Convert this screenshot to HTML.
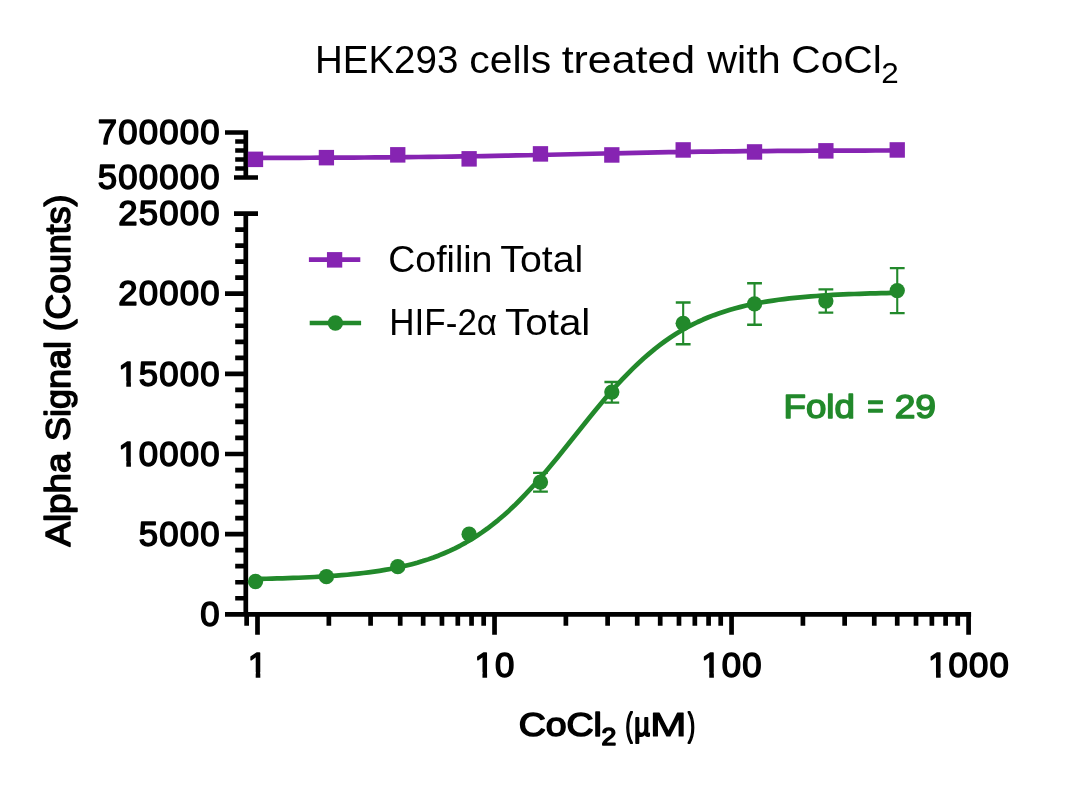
<!DOCTYPE html>
<html lang="en"><head><meta charset="utf-8"><title>HEK293 cells treated with CoCl2</title>
<style>html,body{margin:0;padding:0;background:#fff}svg{display:block;will-change:transform}text{font-family:"Liberation Sans",sans-serif}</style></head>
<body>
<svg width="1080" height="789" viewBox="0 0 1080 789">
<rect width="1080" height="789" fill="#fff"/>
<path d="M245.8 211.4V616.65M245.8 130.15V179.85M234 177.5H258M234 213.7H258M225 614.30H245.8M225 534.15H245.8M225 454.00H245.8M225 373.85H245.8M225 293.70H245.8M225 132.5H245.8M235.2 598.27H245.8M235.2 582.24H245.8M235.2 566.21H245.8M235.2 550.18H245.8M235.2 518.12H245.8M235.2 502.09H245.8M235.2 486.06H245.8M235.2 470.03H245.8M235.2 437.97H245.8M235.2 421.94H245.8M235.2 405.91H245.8M235.2 389.88H245.8M235.2 357.82H245.8M235.2 341.79H245.8M235.2 325.76H245.8M235.2 309.73H245.8M235.2 277.67H245.8M235.2 261.64H245.8M235.2 245.61H245.8M235.2 229.58H245.8M235.2 141.50H245.8M235.2 150.50H245.8M235.2 159.50H245.8M235.2 168.50H245.8M243.45 614.3H971.1M246.65 614.3V625.7M257.50 614.3V634.8M328.85 614.3V625.7M370.59 614.3V625.7M400.21 614.3V625.7M423.18 614.3V625.7M441.95 614.3V625.7M457.81 614.3V625.7M471.56 614.3V625.7M483.68 614.3V625.7M494.53 614.3V634.8M565.88 614.3V625.7M607.62 614.3V625.7M637.24 614.3V625.7M660.21 614.3V625.7M678.98 614.3V625.7M694.84 614.3V625.7M708.59 614.3V625.7M720.71 614.3V625.7M731.56 614.3V634.8M802.91 614.3V625.7M844.65 614.3V625.7M874.27 614.3V625.7M897.24 614.3V625.7M916.01 614.3V625.7M931.87 614.3V625.7M945.62 614.3V625.7M957.74 614.3V625.7M968.59 614.3V634.8" stroke="#000" stroke-width="4.7" fill="none"/>
<path d="M255.5 157.92 L266.4 157.90 L277.3 157.87 L288.1 157.84 L299.0 157.80 L309.9 157.76 L320.8 157.72 L331.6 157.67 L342.5 157.62 L353.4 157.56 L364.3 157.49 L375.1 157.41 L386.0 157.33 L396.9 157.23 L407.8 157.13 L418.7 157.02 L429.5 156.89 L440.4 156.75 L451.3 156.60 L462.2 156.44 L473.0 156.27 L483.9 156.09 L494.8 155.89 L505.7 155.68 L516.5 155.46 L527.4 155.23 L538.3 155.00 L549.2 154.76 L560.1 154.51 L570.9 154.26 L581.8 154.01 L592.7 153.76 L603.6 153.52 L614.4 153.28 L625.3 153.05 L636.2 152.83 L647.1 152.61 L657.9 152.41 L668.8 152.22 L679.7 152.04 L690.6 151.87 L701.5 151.72 L712.3 151.58 L723.2 151.44 L734.1 151.33 L745.0 151.22 L755.8 151.12 L766.7 151.03 L777.6 150.95 L788.5 150.88 L799.3 150.81 L810.2 150.75 L821.1 150.70 L832.0 150.66 L842.9 150.62 L853.7 150.58 L864.6 150.55 L875.5 150.52 L886.4 150.49 L897.2 150.47" stroke="#8624B2" stroke-width="4.7" fill="none"/>
<rect x="247.85" y="151.60" width="15.3" height="15.5" fill="#8624B2"/>
<rect x="318.76" y="149.90" width="15.3" height="15.5" fill="#8624B2"/>
<rect x="390.11" y="147.10" width="15.3" height="15.5" fill="#8624B2"/>
<rect x="461.47" y="151.10" width="15.3" height="15.5" fill="#8624B2"/>
<rect x="532.82" y="146.15" width="15.3" height="15.5" fill="#8624B2"/>
<rect x="604.17" y="147.20" width="15.3" height="15.5" fill="#8624B2"/>
<rect x="675.53" y="142.20" width="15.3" height="15.5" fill="#8624B2"/>
<rect x="746.88" y="144.20" width="15.3" height="15.5" fill="#8624B2"/>
<rect x="818.23" y="143.10" width="15.3" height="15.5" fill="#8624B2"/>
<rect x="889.59" y="142.20" width="15.3" height="15.5" fill="#8624B2"/>
<path d="M255.5 578.96 L260.9 578.85 L266.3 578.73 L271.7 578.60 L277.1 578.46 L282.5 578.31 L287.9 578.13 L293.2 577.95 L298.6 577.74 L304.0 577.52 L309.4 577.27 L314.8 577.00 L320.2 576.70 L325.6 576.37 L331.0 576.01 L336.4 575.62 L341.8 575.19 L347.2 574.72 L352.6 574.21 L358.0 573.64 L363.4 573.02 L368.7 572.35 L374.1 571.61 L379.5 570.81 L384.9 569.93 L390.3 568.97 L395.7 567.92 L401.1 566.78 L406.5 565.53 L411.9 564.18 L417.3 562.71 L422.7 561.11 L428.1 559.37 L433.5 557.49 L438.9 555.45 L444.2 553.25 L449.6 550.87 L455.0 548.31 L460.4 545.56 L465.8 542.59 L471.2 539.42 L476.6 536.02 L482.0 532.39 L487.4 528.53 L492.8 524.43 L498.2 520.08 L503.6 515.49 L509.0 510.65 L514.4 505.57 L519.7 500.26 L525.1 494.71 L530.5 488.95 L535.9 482.99 L541.3 476.84 L546.7 470.53 L552.1 464.07 L557.5 457.49 L562.9 450.82 L568.3 444.08 L573.7 437.31 L579.1 430.53 L584.5 423.77 L589.9 417.07 L595.2 410.45 L600.6 403.94 L606.0 397.56 L611.4 391.34 L616.8 385.30 L622.2 379.46 L627.6 373.82 L633.0 368.41 L638.4 363.24 L643.8 358.30 L649.2 353.61 L654.6 349.16 L660.0 344.96 L665.3 341.00 L670.7 337.28 L676.1 333.79 L681.5 330.52 L686.9 327.48 L692.3 324.64 L697.7 322.00 L703.1 319.54 L708.5 317.27 L713.9 315.17 L719.3 313.23 L724.7 311.43 L730.1 309.78 L735.5 308.26 L740.8 306.86 L746.2 305.57 L751.6 304.39 L757.0 303.30 L762.4 302.31 L767.8 301.39 L773.2 300.56 L778.6 299.79 L784.0 299.09 L789.4 298.45 L794.8 297.87 L800.2 297.33 L805.6 296.85 L811.0 296.40 L816.3 295.99 L821.7 295.62 L827.1 295.28 L832.5 294.97 L837.9 294.69 L843.3 294.43 L848.7 294.20 L854.1 293.98 L859.5 293.79 L864.9 293.61 L870.3 293.45 L875.7 293.30 L881.1 293.17 L886.5 293.05 L891.8 292.93 L897.2 292.83" stroke="#22892B" stroke-width="4.7" fill="none" stroke-linejoin="round"/>
<path d="M533.07 472.9h14.8M533.07 491.6h14.8M604.42 382.0h14.8M604.42 402.6h14.8M675.78 302.5h14.8M675.78 344.3h14.8M747.13 283.3h14.8M747.13 324.8h14.8M818.48 289.4h14.8M818.48 312.6h14.8M889.84 268.1h14.8M889.84 313.1h14.8" stroke="#22892B" stroke-width="2.4" fill="none"/>
<path d="M540.47 472.9V491.6M611.82 382.0V402.6M683.18 302.5V344.3M754.53 283.3V324.8M825.88 289.4V312.6M897.24 268.1V313.1" stroke="#22892B" stroke-width="2.1" fill="none"/>
<circle cx="255.50" cy="581.5" r="7.65" fill="#22892B"/>
<circle cx="326.41" cy="576.7" r="7.65" fill="#22892B"/>
<circle cx="397.76" cy="566.7" r="7.65" fill="#22892B"/>
<circle cx="469.12" cy="534.2" r="7.65" fill="#22892B"/>
<circle cx="540.47" cy="482.1" r="7.65" fill="#22892B"/>
<circle cx="611.82" cy="392.1" r="7.65" fill="#22892B"/>
<circle cx="683.18" cy="323.3" r="7.65" fill="#22892B"/>
<circle cx="754.53" cy="303.9" r="7.65" fill="#22892B"/>
<circle cx="825.88" cy="301.1" r="7.65" fill="#22892B"/>
<circle cx="897.24" cy="290.6" r="7.65" fill="#22892B"/>
<path d="M308.9 259.7H360.3" stroke="#8624B2" stroke-width="4.7"/>
<rect x="326.95" y="252.1" width="15.3" height="15.5" fill="#8624B2"/>
<path d="M309.7 323.0H361.1" stroke="#22892B" stroke-width="4.7"/>
<circle cx="335.4" cy="323.0" r="7.65" fill="#22892B"/>
<text x="388.30" y="272.0" font-size="36.1" font-weight="400" text-anchor="start" fill="#000" textLength="104.14" lengthAdjust="spacingAndGlyphs">Cofilin</text>
<text x="500.36" y="272.0" font-size="36.1" font-weight="400" text-anchor="start" fill="#000" textLength="82.83" lengthAdjust="spacingAndGlyphs">Total</text>
<text x="389.33" y="335.2" font-size="36.1" font-weight="400" text-anchor="start" fill="#000" textLength="107.78" lengthAdjust="spacingAndGlyphs">HIF-2α</text>
<text x="505.04" y="335.2" font-size="36.1" font-weight="400" text-anchor="start" fill="#000" textLength="85.33" lengthAdjust="spacingAndGlyphs">Total</text>
<text x="314.94" y="73.3" font-size="38.4" font-weight="400" text-anchor="start" fill="#000" textLength="143.45" lengthAdjust="spacingAndGlyphs">HEK293</text>
<text x="469.26" y="73.3" font-size="38.4" font-weight="400" text-anchor="start" fill="#000" textLength="81.92" lengthAdjust="spacingAndGlyphs">cells</text>
<text x="561.65" y="73.3" font-size="38.4" font-weight="400" text-anchor="start" fill="#000" textLength="133.51" lengthAdjust="spacingAndGlyphs">treated</text>
<text x="707.26" y="73.3" font-size="38.4" font-weight="400" text-anchor="start" fill="#000" textLength="73.42" lengthAdjust="spacingAndGlyphs">with</text>
<text x="791.33" y="73.3" font-size="38.4" font-weight="400" text-anchor="start" fill="#000" textLength="90.49" lengthAdjust="spacingAndGlyphs">CoCl</text>
<text x="881.22" y="83.0" font-size="29.7" font-weight="400" text-anchor="start" fill="#000" textLength="17.46" lengthAdjust="spacingAndGlyphs">2</text>
<text x="783.54" y="418.0" font-size="33.5" font-weight="400" text-anchor="start" fill="#22892B" textLength="71.37" lengthAdjust="spacingAndGlyphs" stroke="#22892B" stroke-width="1.5" stroke-linejoin="round">Fold</text>
<text x="867.17" y="418.0" font-size="33.5" font-weight="400" text-anchor="start" fill="#22892B" textLength="16.47" lengthAdjust="spacingAndGlyphs" stroke="#22892B" stroke-width="1.5" stroke-linejoin="round">=</text>
<text x="894.68" y="418.0" font-size="33.5" font-weight="400" text-anchor="start" fill="#22892B" textLength="41.33" lengthAdjust="spacingAndGlyphs" stroke="#22892B" stroke-width="1.5" stroke-linejoin="round">29</text>
<text x="97.86" y="144.20" font-size="34.7" letter-spacing="1.2" stroke="#000" stroke-width="1.5" stroke-linejoin="round">700000</text>
<text x="97.86" y="189.10" font-size="34.7" letter-spacing="1.2" stroke="#000" stroke-width="1.5" stroke-linejoin="round">500000</text>
<text x="118.36" y="225.00" font-size="34.7" letter-spacing="1.2" stroke="#000" stroke-width="1.5" stroke-linejoin="round">25000</text>
<text x="118.36" y="305.40" font-size="34.7" letter-spacing="1.2" stroke="#000" stroke-width="1.5" stroke-linejoin="round">20000</text>
<text x="118.36" y="385.55" font-size="34.7" letter-spacing="1.2" stroke="#000" stroke-width="1.5" stroke-linejoin="round">15000</text><path d="M118.96 380.75h7.35v6.6h-7.35zM130.92 380.75h7v6.6h-7z" fill="#fff"/>
<text x="118.36" y="465.70" font-size="34.7" letter-spacing="1.2" stroke="#000" stroke-width="1.5" stroke-linejoin="round">10000</text><path d="M118.96 460.90h7.35v6.6h-7.35zM130.92 460.90h7v6.6h-7z" fill="#fff"/>
<text x="138.86" y="545.85" font-size="34.7" letter-spacing="1.2" stroke="#000" stroke-width="1.5" stroke-linejoin="round">5000</text>
<text x="200.35" y="626.00" font-size="34.7" letter-spacing="1.2" stroke="#000" stroke-width="1.5" stroke-linejoin="round">0</text>
<text x="247.75" y="677.10" font-size="34.7" letter-spacing="1.2" stroke="#000" stroke-width="1.5" stroke-linejoin="round">1</text><path d="M248.35 672.30h7.35v6.6h-7.35zM260.31 672.30h7v6.6h-7z" fill="#fff"/>
<text x="474.53" y="677.10" font-size="34.7" letter-spacing="1.2" stroke="#000" stroke-width="1.5" stroke-linejoin="round">10</text><path d="M475.13 672.30h7.35v6.6h-7.35zM487.09 672.30h7v6.6h-7z" fill="#fff"/>
<text x="701.31" y="677.10" font-size="34.7" letter-spacing="1.2" stroke="#000" stroke-width="1.5" stroke-linejoin="round">100</text><path d="M701.91 672.30h7.35v6.6h-7.35zM713.87 672.30h7v6.6h-7z" fill="#fff"/>
<text x="928.09" y="677.10" font-size="34.7" letter-spacing="1.2" stroke="#000" stroke-width="1.5" stroke-linejoin="round">1000</text><path d="M928.69 672.30h7.35v6.6h-7.35zM940.65 672.30h7v6.6h-7z" fill="#fff"/>
<text x="518.65" y="735.7" font-size="33.5" font-weight="400" text-anchor="start" fill="#000" textLength="83.31" lengthAdjust="spacingAndGlyphs" stroke="#000" stroke-width="1.5" stroke-linejoin="round">CoCl</text>
<text x="601.41" y="744.6" font-size="24.0" font-weight="400" text-anchor="start" fill="#000" textLength="14.77" lengthAdjust="spacingAndGlyphs" stroke="#000" stroke-width="1.5" stroke-linejoin="round">2</text>
<text x="625.39" y="735.7" font-size="33.5" font-weight="400" text-anchor="start" fill="#000" textLength="7.03" lengthAdjust="spacingAndGlyphs" stroke="#000" stroke-width="2.0" stroke-linejoin="round">(</text>
<text x="634.20" y="735.7" font-size="33.5" font-weight="400" text-anchor="start" fill="#000" textLength="15.57" lengthAdjust="spacingAndGlyphs" stroke="#000" stroke-width="2.1" stroke-linejoin="round">µ</text>
<text x="649.94" y="735.7" font-size="33.5" font-weight="400" text-anchor="start" fill="#000" textLength="36.61" lengthAdjust="spacingAndGlyphs" stroke="#000" stroke-width="1.1" stroke-linejoin="round">M</text>
<text x="687.88" y="735.7" font-size="33.5" font-weight="400" text-anchor="start" fill="#000" textLength="7.03" lengthAdjust="spacingAndGlyphs" stroke="#000" stroke-width="2.0" stroke-linejoin="round">)</text>
<text transform="translate(70.45 546.6) rotate(-90)" font-size="35.0" stroke="#000" stroke-width="1.5" stroke-linejoin="round" textLength="94.0" lengthAdjust="spacingAndGlyphs">Alpha</text>
<text transform="translate(70.45 440.9) rotate(-90)" font-size="35.0" stroke="#000" stroke-width="1.5" stroke-linejoin="round" textLength="100.0" lengthAdjust="spacingAndGlyphs">Signal</text>
<text transform="translate(70.45 331.3) rotate(-90)" font-size="35.0" stroke="#000" stroke-width="1.5" stroke-linejoin="round" textLength="136.7" lengthAdjust="spacingAndGlyphs">(Counts)</text>
</svg>
</body></html>
